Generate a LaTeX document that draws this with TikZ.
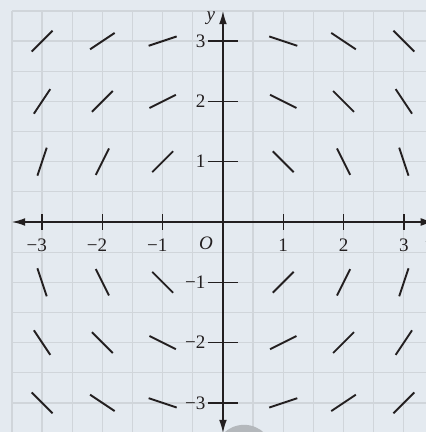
\documentclass[tikz,border=0pt]{standalone}
\usepackage{fontspec}
\setmainfont{Liberation Serif}
\usetikzlibrary{arrows.meta}

\definecolor{paper}{RGB}{228,234,240}
\definecolor{gridline}{RGB}{208,213,218}
\definecolor{ink}{RGB}{35,31,32}
\definecolor{tab}{RGB}{180,184,188}

\begin{document}
\begin{tikzpicture}[
    slope/.style={draw=ink, line width=0.9pt},
    axis/.style={draw=ink, line width=0.7pt, {Latex[length=2.2mm,width=1.3mm]}-{Latex[length=2.2mm,width=1.3mm]}},
    tick/.style={draw=ink, line width=0.7pt},
    lbl/.style={text=ink, inner sep=1pt, font=\fontsize{9}{10}\selectfont}]
    % Paper and frame
    \fill[paper] (-3.698,-3.483) rectangle (3.366,3.682);
    \useasboundingbox (-3.698,-3.483) rectangle (3.366,3.682);

    % Grid in half units
    \draw[gridline, line width=0.6pt, step=0.5] (-3.5,-3.6) grid (3.5,3.5);

    % Grey tab at the bottom edge
    \fill[tab] (0.35,-3.85) circle (0.486);

    % Axes
    \draw[axis] (-3.5,0) -- (3.5,0);
    \draw[axis] (0,-3.5) -- (0,3.5);
    \node[lbl] (xlab) at (3.44,-0.27) {\textit{x}};
    \node[lbl] (ylab) at (-0.2,3.38) {\textit{y}};
    \node[lbl] (orig) at (-0.28,-0.36) {\textit{O}};

    % Ticks and numbers
    \foreach \t in {-3,-2,-1,1,2,3}{
        \draw[tick] (\t,0.125) -- (\t,-0.125);
        \draw[tick] (-0.25,\t) -- (0.25,\t);
        \ifnum\t<0
            \node[lbl] (xn\t) at (\t,-0.385) {\llap{−}\the\numexpr-\t\relax};
            \node[lbl, anchor=east] (yn\t) at (-0.25,\t) {−\the\numexpr-\t\relax};
        \else
            \node[lbl] (xn\t) at (\t,-0.385) {\t};
            \node[lbl, anchor=east] (yn\t) at (-0.25,\t) {\t};
        \fi
    }

    % Slope field dy/dx = -x/y
    \foreach \x in {-3,-2,-1,1,2,3}
        \foreach \y in {-3,-2,-1,1,2,3}{
            \pgfmathsetmacro\ang{atan2(-\x,\y)}
            \draw[slope] (\x,\y) ++(\ang:-0.245) -- ++(\ang:0.49);
        }
\end{tikzpicture}
\end{document}
